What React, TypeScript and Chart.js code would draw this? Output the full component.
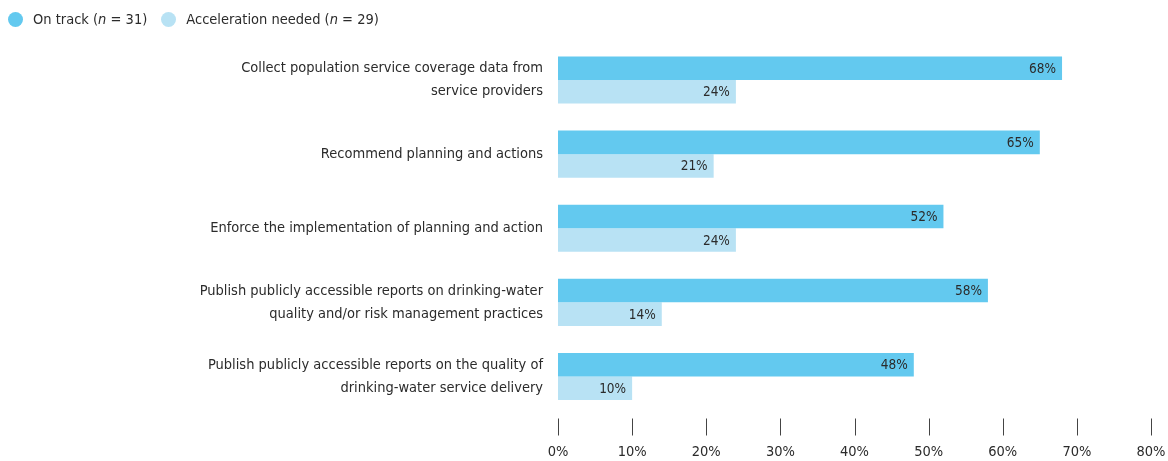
import React, { useEffect, useRef } from "react";
import { Chart, registerables } from "chart.js";

Chart.register(...registerables);

const categories: (string | string[])[] = [
  ["Collect population service coverage data from", "service providers"],
  "Recommend planning and actions",
  "Enforce the implementation of planning and action",
  ["Publish publicly accessible reports on drinking-water", "quality and/or risk management practices"],
  ["Publish publicly accessible reports on the quality of", "drinking-water service delivery"],
];
const onTrack = [68, 65, 52, 58, 48];
const accelerationNeeded = [24, 21, 24, 14, 10];
const seriesNames = ["On track", "Acceleration needed"];
const seriesN = [31, 29];
const xTicks = [0, 10, 20, 30, 40, 50, 60, 70, 80];

const DARK = "#63C9EF";
const LIGHT = "#B8E2F4";
const TEXT = "#2b2b2b";
const FONT = "'Liberation Sans Narrow', 'DejaVu Sans Condensed', 'Arial Narrow', sans-serif";

const valueLabels = {
  id: "valueLabels",
  afterDatasetsDraw(chart: any) {
    const ctx = chart.ctx;
    ctx.save();
    ctx.font = `13.5px ${FONT}`;
    ctx.fillStyle = TEXT;
    ctx.textAlign = "right";
    ctx.textBaseline = "middle";
    chart.data.datasets.forEach((ds: any, i: number) => {
      const meta = chart.getDatasetMeta(i);
      meta.data.forEach((bar: any, j: number) => {
        ctx.fillText(`${ds.data[j]}%`, bar.x - 6, bar.y + 1);
      });
    });
    ctx.restore();
  },
};

const tickMarks = {
  id: "tickMarks",
  afterDraw(chart: any) {
    const ctx = chart.ctx;
    const scale = chart.scales.x;
    ctx.save();
    ctx.strokeStyle = "#444";
    ctx.lineWidth = 1;
    scale.ticks.forEach((t: any) => {
      const px = Math.round(scale.getPixelForValue(t.value)) + 0.5;
      ctx.beginPath();
      ctx.moveTo(px, chart.chartArea.bottom + 5);
      ctx.lineTo(px, chart.chartArea.bottom + 22);
      ctx.stroke();
    });
    ctx.restore();
  },
};

export default function App() {
  const ref = useRef<HTMLCanvasElement>(null);
  useEffect(() => {
    if (!ref.current) return;
    const chart = new Chart(ref.current, {
      type: "bar",
      data: {
        labels: categories,
        datasets: [
          { label: seriesNames[0], data: onTrack, backgroundColor: DARK, borderWidth: 0 },
          { label: seriesNames[1], data: accelerationNeeded, backgroundColor: LIGHT, borderWidth: 0 },
        ],
      },
      options: {
        indexAxis: "y",
        animation: false,
        responsive: false,
        maintainAspectRatio: false,
        layout: { padding: { top: 43, right: 17, left: 0, bottom: 0 } },
        datasets: { bar: { categoryPercentage: 0.635, barPercentage: 1 } },
        plugins: { legend: { display: false }, tooltip: { enabled: false } },
        scales: {
          x: {
            min: 0,
            max: 80,
            afterBuildTicks: (s: any) => {
              s.ticks = xTicks.map((v) => ({ value: v }));
            },
            afterFit: (s: any) => {
              s.height = 47.5;
              s.paddingLeft = 0;
              s.paddingRight = 0;
            },
            grid: { display: false, drawTicks: false },
            border: { display: false },
            ticks: {
              padding: 30,
              color: TEXT,
              font: { family: FONT, size: 14.5 },
              callback: (v: any) => `${v}%`,
            },
          },
          y: {
            afterFit: (s: any) => {
              s.width = 558;
            },
            grid: { display: false, drawTicks: false },
            border: { display: false },
            ticks: {
              padding: 15,
              color: TEXT,
              font: { family: FONT, size: 14.5, lineHeight: 1.58 },
            },
          },
        },
      },
      plugins: [valueLabels, tickMarks],
    });
    return () => chart.destroy();
  }, []);

  const legendItem = (name: string, n: number, color: string, mr: number) => (
    <div style={{ display: "flex", alignItems: "center", marginRight: mr }}>
      <span
        style={{
          display: "inline-block",
          width: 15,
          height: 15,
          borderRadius: "50%",
          background: color,
          marginRight: 10,
        }}
      />
      <span style={{ fontFamily: FONT, fontSize: 14.5, color: TEXT, whiteSpace: "nowrap" }}>
        {name} (<i>n</i> = {n})
      </span>
    </div>
  );

  return (
    <div style={{ position: "fixed", left: 0, top: 0, width: 1168, height: 461, background: "#fff" }}>
      <div style={{ position: "absolute", left: 8, top: 9, display: "flex", height: 20 }}>
        {legendItem(seriesNames[0], seriesN[0], DARK, 14)}
        {legendItem(seriesNames[1], seriesN[1], LIGHT, 0)}
      </div>
      <canvas ref={ref} width={1168} height={461} style={{ display: "block" }} />
    </div>
  );
}
